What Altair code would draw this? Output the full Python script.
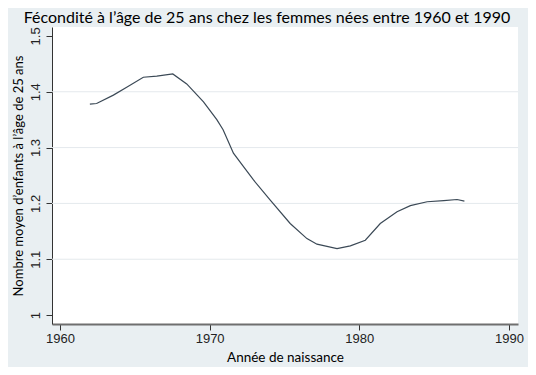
import altair as alt
import pandas as pd

years = [1962.0, 1962.45, 1963.57, 1964.46, 1965.57, 1966.47, 1967.54, 1968.47,
         1969.59, 1970.48, 1970.9, 1971.59, 1972.2, 1972.93, 1974.05, 1975.38,
         1976.5, 1977.17, 1978.51, 1979.40, 1980.40, 1981.40, 1982.52, 1983.41,
         1984.53, 1985.64, 1986.53, 1987.02]
values = [1.378, 1.379, 1.394, 1.408, 1.426, 1.428, 1.432, 1.414,
          1.382, 1.350, 1.332, 1.290, 1.268, 1.242, 1.206, 1.164,
          1.137, 1.127, 1.119, 1.124, 1.134, 1.164, 1.185, 1.196,
          1.203, 1.205, 1.207, 1.204]
x_ticks = [1960, 1970, 1980, 1990]
y_ticks = [1.0, 1.1, 1.2, 1.3, 1.4, 1.5]
grid_vals = [1.1, 1.2, 1.3, 1.4]

df = pd.DataFrame({"year": years, "value": values})
grid = pd.DataFrame({"g": grid_vals})

xs = alt.Scale(domain=[1959.47, 1990.6], nice=False, zero=False)
ys = alt.Scale(domain=[0.984, 1.516], nice=False, zero=False)

font_t = "Lato"
gridlayer = alt.Chart(grid).mark_rule(color="#e4e9ed", strokeWidth=1).encode(
    y=alt.Y("g:Q", scale=ys)
)

line = alt.Chart(df).mark_line(color="#3b4956", strokeWidth=1.2).encode(
    x=alt.X("year:Q", scale=xs,
            axis=alt.Axis(values=x_ticks, format="d", title="Année de naissance",
                          grid=False, domainColor="#6f6f6f", domainWidth=2,
                          tickColor="#333", tickSize=6, labelFont="Liberation Sans",
                          labelFontSize=13, labelColor="#222", labelPadding=2,
                          titleFont=font_t, titleFontSize=13.5, titleColor="#000",
                          titlePadding=5, titleFontWeight="normal")),
    y=alt.Y("value:Q", scale=ys,
            axis=alt.Axis(values=y_ticks, format=".1~f", title="Nombre moyen d’enfants à l’âge de 25 ans",
                          grid=False, domainColor="#333", domainWidth=1,
                          tickColor="#333", tickSize=6, labelFont="Liberation Sans",
                          labelFontSize=13, labelColor="#222", labelAngle=-90,
                          labelAlign="center", labelBaseline="bottom", labelPadding=4,
                          titleFont=font_t, titleFontSize=13, titleColor="#000",
                          titlePadding=4, titleFontWeight="normal")),
)

chart = alt.layer(gridlayer, line).properties(
    width=466, height=297,
    background="#e9eff2",
    autosize=alt.AutoSizeParams(type="none"),
    padding={"left": 44, "top": 19, "right": 10, "bottom": 43},
    title=alt.TitleParams(
        "Fécondité à l’âge de 25 ans chez les femmes nées entre 1960 et 1990",
        font=font_t, fontSize=16, fontWeight="normal", color="#000",
        anchor="middle", dx=-18, offset=1,
    ),
).configure_view(fill="white", stroke=None)

chart.save("out.html", embed_options={"renderer": "svg", "actions": False})
